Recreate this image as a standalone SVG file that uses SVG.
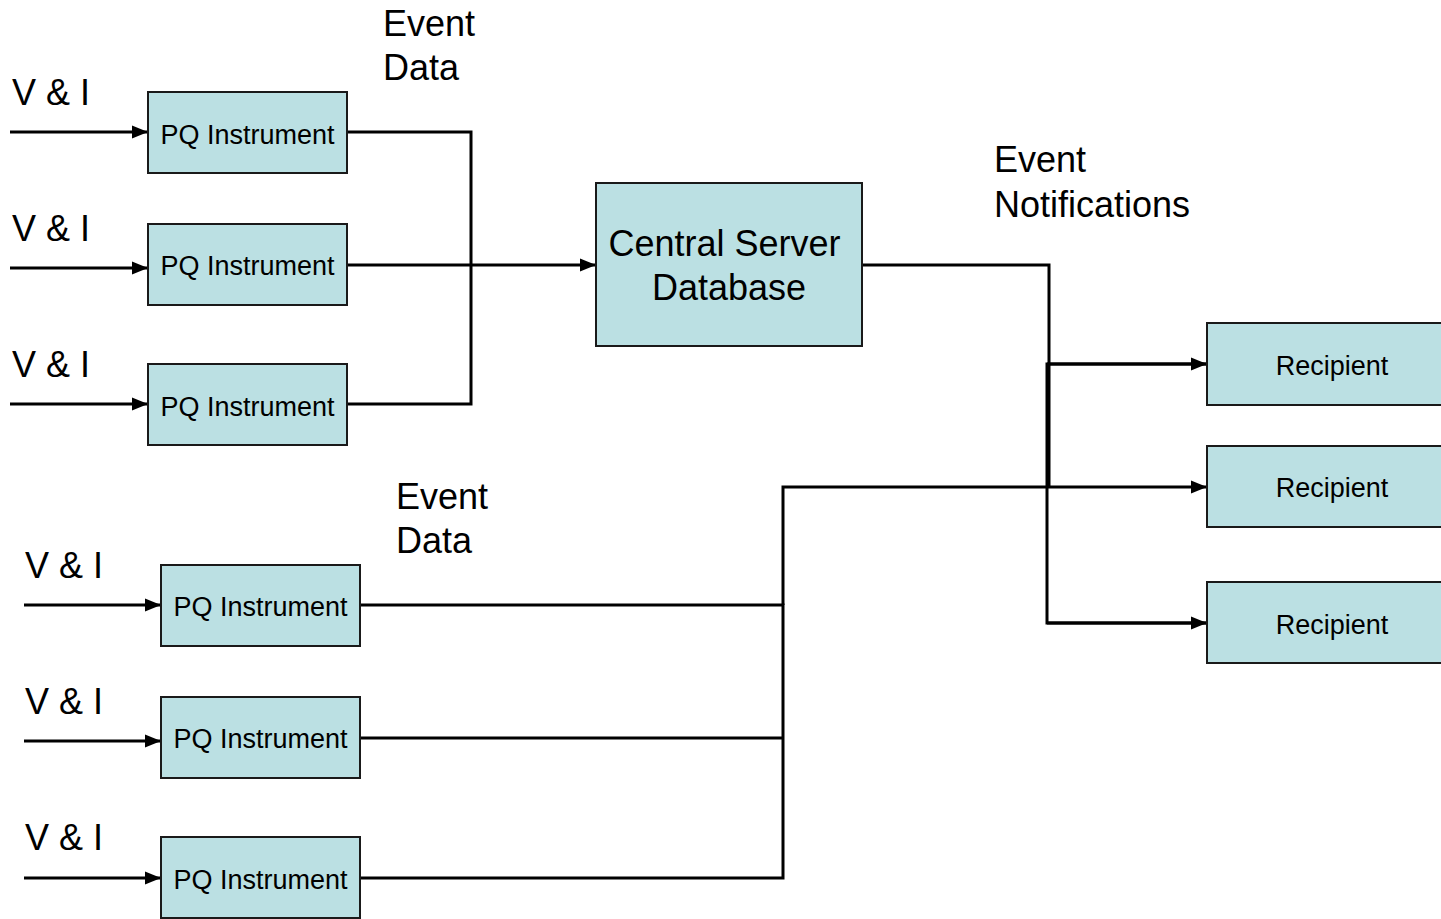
<svg xmlns="http://www.w3.org/2000/svg" width="1441" height="919" viewBox="0 0 1441 919">
<style>
.box{fill:#BBE0E3;stroke:#1a1a1a;stroke-width:2}
.t{font-family:"Liberation Sans",Arial,sans-serif;fill:#000}
.s{font-size:27px}
.l{font-size:36px}
.c{fill:none;stroke:#000;stroke-width:3}
</style>
<defs>
<marker id="a" markerUnits="userSpaceOnUse" markerWidth="17" markerHeight="16" refX="16" refY="8" orient="auto">
<path d="M0,1.5 L16,8 L0,14.5 Z" fill="#000"/>
</marker>
</defs>
<rect width="1441" height="919" fill="#fff"/>
<g id="labels">
<text class="t l" x="12" y="105">V &amp; I</text>
<text class="t l" x="12" y="241">V &amp; I</text>
<text class="t l" x="12" y="377">V &amp; I</text>
<text class="t l" x="25" y="578">V &amp; I</text>
<text class="t l" x="25" y="714">V &amp; I</text>
<text class="t l" x="25" y="850">V &amp; I</text>
<text class="t l" x="383" y="36">Event</text>
<text class="t l" x="383" y="80">Data</text>
<text class="t l" x="396" y="509">Event</text>
<text class="t l" x="396" y="553">Data</text>
<text class="t l" x="994" y="172">Event</text>
<text class="t l" x="994" y="217">Notifications</text>
</g>
<g id="connectors">
<line class="c" x1="10" y1="132" x2="148" y2="132" marker-end="url(#a)"/>
<line class="c" x1="10" y1="268" x2="148" y2="268" marker-end="url(#a)"/>
<line class="c" x1="10" y1="404" x2="148" y2="404" marker-end="url(#a)"/>
<line class="c" x1="24" y1="605" x2="161" y2="605" marker-end="url(#a)"/>
<line class="c" x1="24" y1="741" x2="161" y2="741" marker-end="url(#a)"/>
<line class="c" x1="24" y1="878" x2="161" y2="878" marker-end="url(#a)"/>
<polyline class="c" points="347,132 471,132 471,404 347,404"/>
<line class="c" x1="347" y1="265" x2="596" y2="265" marker-end="url(#a)"/>
<polyline class="c" points="862,265 1049,265 1049,487"/>
<polyline class="c" points="1207,364 1047,364 1047,623 1207,623"/>
<line class="c" x1="1047" y1="364" x2="1207" y2="364" marker-end="url(#a)"/>
<line class="c" x1="1047" y1="623" x2="1207" y2="623" marker-end="url(#a)"/>
<polyline class="c" points="360,605 783,605 783,878 360,878"/>
<line class="c" x1="360" y1="738" x2="783" y2="738"/>
<polyline class="c" points="783,605 783,487 1207,487" marker-end="url(#a)"/>
</g>
<g id="pq1"><rect class="box" x="148" y="92" width="199" height="81"/><text class="t s" x="247.5" y="144" text-anchor="middle">PQ Instrument</text></g>
<g id="pq2"><rect class="box" x="148" y="224" width="199" height="81"/><text class="t s" x="247.5" y="275" text-anchor="middle">PQ Instrument</text></g>
<g id="pq3"><rect class="box" x="148" y="364" width="199" height="81"/><text class="t s" x="247.5" y="416" text-anchor="middle">PQ Instrument</text></g>
<g id="pq4"><rect class="box" x="161" y="565" width="199" height="81"/><text class="t s" x="260.5" y="616" text-anchor="middle">PQ Instrument</text></g>
<g id="pq5"><rect class="box" x="161" y="697" width="199" height="81"/><text class="t s" x="260.5" y="748" text-anchor="middle">PQ Instrument</text></g>
<g id="pq6"><rect class="box" x="161" y="837" width="199" height="81"/><text class="t s" x="260.5" y="889" text-anchor="middle">PQ Instrument</text></g>
<g id="server"><rect class="box" x="596" y="183" width="266" height="163"/><text class="t l" x="724.5" y="256" text-anchor="middle">Central Server</text><text class="t l" x="729" y="300" text-anchor="middle">Database</text></g>
<g id="r1"><rect class="box" x="1207" y="323" width="240" height="82"/><text class="t s" x="1332" y="375" text-anchor="middle">Recipient</text></g>
<g id="r2"><rect class="box" x="1207" y="446" width="240" height="81"/><text class="t s" x="1332" y="497" text-anchor="middle">Recipient</text></g>
<g id="r3"><rect class="box" x="1207" y="582" width="240" height="81"/><text class="t s" x="1332" y="634" text-anchor="middle">Recipient</text></g>
</svg>
